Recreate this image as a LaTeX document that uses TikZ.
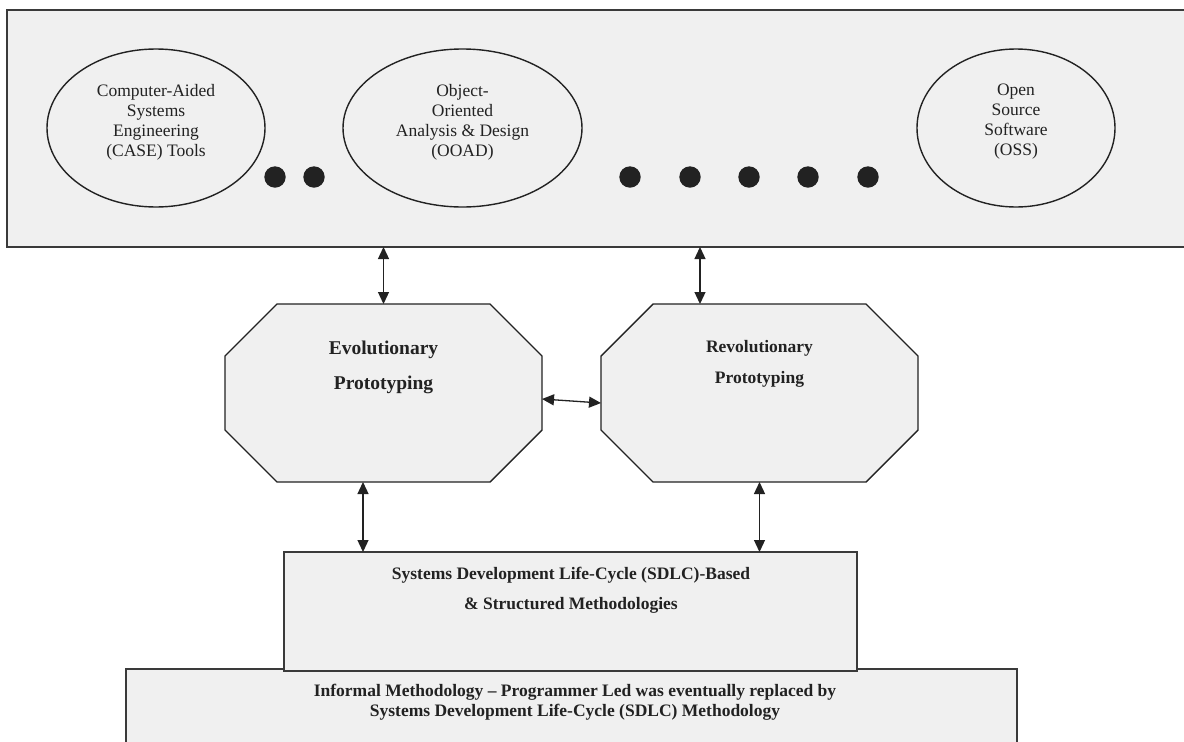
\documentclass[tikz,border=0pt]{standalone}
\usepackage{fontspec}
\setmainfont{Liberation Serif}
\usetikzlibrary{arrows.meta,shapes.geometric,calc}

\definecolor{panel}{HTML}{F0F0F0}
\definecolor{inkc}{HTML}{222222}
\definecolor{framec}{HTML}{3A3A3A}

% outline of a chamfered box around a (invisible) rectangle node
\newcommand\chamferoutline[2]{%
  \draw[ink, fill=panel]
    ([xshift=#2]#1.north west) -- ([xshift=-#2]#1.north east)
    -- ([yshift=-#2]#1.north east) -- ([yshift=#2]#1.south east)
    -- ([xshift=-#2]#1.south east) -- ([xshift=#2]#1.south west)
    -- ([yshift=#2]#1.south west) -- ([yshift=-#2]#1.north west) -- cycle;}

\begin{document}
\begin{tikzpicture}[x=1pt,y=-1pt,
  ink/.style={draw=inkc, line width=1.4pt},
  frame/.style={rectangle, draw=framec, line width=2pt, fill=panel,
                inner sep=0pt, outer sep=0pt, anchor=north west},
  ell/.style={ellipse, ink, fill=panel, inner sep=0pt, outer sep=0pt},
  dot/.style={circle, fill=inkc, inner sep=0pt, minimum size=21.4pt},
  octo/.style={rectangle, inner sep=0pt, outer sep=0pt,
               minimum width=317pt, minimum height=178pt},
  txt/.style={align=center, text=inkc, inner sep=0pt,
              font=\fontsize{17.5}{20}\selectfont},
  btxt/.style={align=center, text=inkc, inner sep=0pt},
  dbl/.style={ink, line width=1.3pt,
              {Triangle[length=12pt,width=11pt]}-{Triangle[length=12pt,width=11pt]}},
]
\useasboundingbox (0,0) rectangle (1184,742);
\clip (0,0) rectangle (1184,742);

% upper band of related approaches
\node[frame, minimum width=1190pt, minimum height=237pt] (tools) at (7,10) {};
\node[ell, minimum width=218pt, minimum height=158pt] (case) at (156,128) {};
\node[ell, minimum width=239pt, minimum height=158pt] (ooad) at (462.5,128) {};
\node[ell, minimum width=198pt, minimum height=158pt] (oss) at (1016,128) {};
\node[txt] (caset) at (156,122) {Computer-Aided\\Systems\\Engineering\\(CASE) Tools};
\node[txt] (ooadt) at (462.5,122) {Object-\\Oriented\\Analysis \& Design\\(OOAD)};
\node[txt] (osst) at (1016,122) {Open\\Source\\Software\\(OSS)};

\node[dot] (d1) at (275,177) {};
\node[dot] (d2) at (314,177) {};
\node[dot] (d3) at (630,177) {};
\node[dot] (d4) at (690,177) {};
\node[dot] (d5) at (749,177) {};
\node[dot] (d6) at (808,177) {};
\node[dot] (d7) at (868,177) {};

% prototyping octagons
\node[octo] (evo) at (383.5,393) {};
\node[octo] (rev) at (759.5,393) {};
\chamferoutline{evo}{52pt}
\chamferoutline{rev}{52pt}
\node[btxt, font=\bfseries\fontsize{19.5}{35}\selectfont] (evot) at (383.5,367.5) {Evolutionary\\Prototyping};
\node[btxt, font=\bfseries\fontsize{17.5}{31}\selectfont] (revt) at (759.5,364) {Revolutionary\\Prototyping};

% foundation boxes
\node[frame, minimum width=891pt, minimum height=100pt] (informal) at (126,669) {};
\node[frame, minimum width=573pt, minimum height=119pt] (sdlc) at (284,552) {};
\node[btxt, font=\bfseries\fontsize{17.5}{30}\selectfont] (sdlct) at (571,590)
  {Systems Development Life-Cycle (SDLC)-Based\\\& Structured Methodologies};
\node[btxt, font=\bfseries\fontsize{17.5}{20}\selectfont] (informalt) at (575,702)
  {Informal Methodology -- Programmer Led was eventually replaced by\\Systems Development Life-Cycle (SDLC) Methodology};

% connectors
\draw[dbl] (evo.north) -- (evo.north |- tools.south);
\draw[dbl] ([xshift=-59.5pt]rev.north) -- ([xshift=-59.5pt]rev.north |- tools.south);
\draw[dbl] ([yshift=-6pt]evo.east) -- ([yshift=-10pt]rev.west);
\draw[dbl] ([xshift=-20.5pt]evo.south) -- ([xshift=-20.5pt]evo.south |- sdlc.north);
\draw[dbl] (rev.south) -- (rev.south |- sdlc.north);
\end{tikzpicture}
\end{document}
